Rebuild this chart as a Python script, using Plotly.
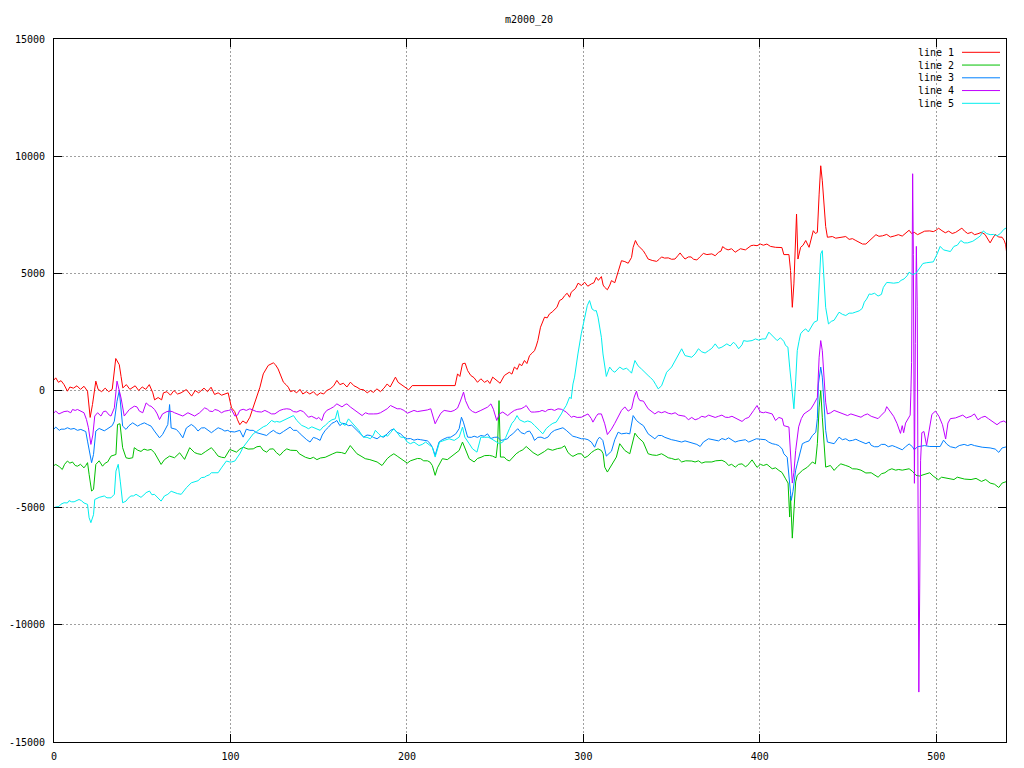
import plotly.graph_objects as go

# ---------------- data ----------------
title_text = "m2000_20"
series_names = ["line 1", "line 2", "line 3", "line 4", "line 5"]
series_colors = ["#ff0000", "#00c000", "#0080ff", "#c000ff", "#00eeee"]

x_ticks = [0, 100, 200, 300, 400, 500]
y_ticks = [-15000, -10000, -5000, 0, 5000, 10000, 15000]
y_tick_labels = ["-15000", "-10000", "-5000", "0", "5000", "10000", "15000"]

line1_pts = [
    (0, 450), (1, 540), (2.5, 350), (4, 420), (5.7, 250), (7.6, -30), (9, 150), (11, 100), (13, 200), (15, 50),
    (17, 180), (19, -30), (20.5, -1150), (21.8, -600), (23.7, 400), (25, 50), (27, -50), (29, 100), (31, -50),
    (33, 50), (35, 1365), (36, 1250), (37, 1100), (38, 600), (39, 110), (41, 250), (43, 50), (46, 200), (48, 0),
    (50, 150), (52, 50), (54, 250), (56, -100), (57, -400), (59, -300), (61, -400), (62, -100), (64, -50),
    (66, -200), (68, 0), (70, -150), (72, -100), (75, 40), (78, -240), (80, 0), (82, -100), (85, 100), (87, -50),
    (89, 140), (91, -170), (93, -100), (95, -200), (97, -150), (98.7, -100), (100.6, -740), (102.4, -900),
    (104, -1250), (105.3, -1460), (107, -1300), (109, -1400), (111, -1140), (113, -700), (114.8, -280),
    (116.7, 140), (118.6, 710), (120, 900), (121.4, 1070), (124.3, 1180), (125.5, 1100), (127, 920),
    (128.5, 650), (130, 355), (131.5, 250), (132.8, 140), (134, -50), (135.7, 0), (137.5, -100), (139.4, 50),
    (141, -150), (143, -50), (145, -150), (147, -50), (149, -210), (151, -100), (152.8, -150), (154.6, 0),
    (156.5, 70), (158.5, 200), (160.3, 430), (162, 250), (164, 310), (166, 150), (168, 355), (170, 200),
    (171.7, 140), (173.5, 50), (175.5, 30), (177.5, -100), (179.3, 0), (181, -80), (183, 70), (185, -50),
    (187, 100), (188.8, 280), (190.5, 150), (192, 350), (193.5, 570), (195, 350), (196.4, 280), (198, 200),
    (199.2, 140), (201, 30), (203, 210), (227.3, 210), (228.7, 710), (230, 600), (231.5, 1140), (233, 1165),
    (234.4, 850), (236.2, 640), (238, 550), (240, 350), (241.9, 500), (244, 350), (245.7, 430), (247, 300),
    (248.6, 570), (250.5, 450), (252.8, 310), (255.2, 640), (258, 780), (259.5, 700), (260.9, 1000),
    (262.5, 900), (263.8, 1140), (265, 1050), (266.6, 1280), (268, 1150), (269.5, 1490), (271, 1600),
    (272.3, 1700), (273.3, 1900), (274.2, 2130), (275.7, 2700), (277, 3000), (278, 3130), (279.5, 3100),
    (280.8, 3270), (282.3, 3350), (283.7, 3480), (285, 3550), (286.5, 3840), (288, 3900), (289.4, 4050),
    (290.8, 4150), (292.2, 3980), (293.1, 4190), (294.1, 4260), (295.5, 4350), (297, 4580), (298.9, 4480),
    (300.7, 4620), (302.5, 4450), (304.5, 4550), (306, 4600), (307.3, 4830), (308.5, 4700), (310.2, 4860),
    (311.2, 4500), (312.1, 4400), (313.6, 4300), (315, 4500), (315.9, 4690), (317.8, 4600), (319.7, 5050),
    (321.6, 5540), (323.5, 5500), (325.4, 5430), (327.3, 5680), (328.2, 6110), (329.5, 6400), (330.8, 6200),
    (332, 6110), (333.9, 5970), (335.3, 5800), (336.7, 5610), (339, 5550), (341.5, 5510), (343, 5600),
    (344.3, 5700), (346, 5650), (348.1, 5660), (350, 5600), (351.9, 5610), (353.5, 5750), (354.8, 5870),
    (356, 5750), (357.6, 5610), (359.5, 5700), (361, 5700), (362.5, 5600), (364.3, 5570), (366, 5700),
    (368, 5850), (370, 5800), (372.8, 5830), (374.7, 5750), (376.6, 5900), (378, 5950), (378.9, 6140),
    (380.5, 6050), (382, 6000), (384, 6050), (386, 5900), (388, 6000), (389, 6050), (391.8, 6000),
    (393.5, 6100), (395, 6180), (396.5, 6200), (398.4, 6180), (400.3, 6250), (402, 6200), (404, 6250),
    (406, 6150), (408.9, 6110), (411, 6120), (412.5, 6100), (413.6, 5800), (416.5, 5800), (417.4, 5120),
    (418.4, 3550), (419.3, 4550), (420.3, 6890), (420.8, 7530), (421.6, 5610), (423.1, 6110), (424.5, 6200),
    (426, 6400), (427.9, 6110), (429, 6500), (430.3, 6820), (431.5, 6700), (432.6, 6750), (433.6, 8380),
    (434.5, 9590), (435.4, 8950), (436.4, 7670), (437.3, 7000), (438.3, 6540), (441.1, 6570), (443, 6500),
    (444.9, 6520), (446.8, 6550), (448.7, 6570), (450.6, 6450), (452.5, 6480), (454.4, 6400), (456.3, 6320),
    (458.2, 6250), (460.1, 6250), (461.5, 6350), (463, 6420), (465.8, 6650), (467.5, 6580), (469.5, 6600),
    (471.9, 6660), (474, 6550), (476.5, 6600), (478.5, 6650), (480.7, 6590), (482.6, 6700), (484.6, 6840),
    (486, 6700), (487.5, 6750), (489.4, 6650), (491.4, 6730), (493.4, 6800), (496.3, 6810), (498.3, 6780),
    (500.2, 6850), (501.2, 6930), (503.2, 6820), (505.1, 6730), (507, 6800), (509, 6700), (511, 6750),
    (513, 6850), (514.5, 6930), (516, 6800), (517.8, 6700), (520, 6750), (521.7, 6650), (523.6, 6690),
    (525.6, 6750), (527.6, 6660), (529, 6500), (530.5, 6300), (532, 6500), (533.4, 6660), (535.4, 6550),
    (537.3, 6540), (538.5, 6400), (539.3, 6220), (540, 5800),
]

line2_pts = [
    (0, -3200), (1, -3155), (3, -3250), (4.7, -3370), (6, -3150), (7.6, -3010), (9, -3100), (10.5, -3050),
    (12, -3200), (13.3, -3230), (15, -3150), (17, -3300), (18, -3200), (19, -3080), (19.9, -3580),
    (21.3, -4290), (22.4, -4220), (23.1, -3580), (23.7, -3155), (25.6, -3000), (27.5, -3230), (29, -3100),
    (30.4, -3050), (32.3, -2800), (34, -2750), (35.1, -2730), (36, -1450), (37.4, -1420), (38.9, -2440),
    (40.8, -2870), (42.5, -2900), (44.6, -2870), (45.5, -2440), (47.5, -2550), (49.3, -2600), (51, -2500),
    (53, -2550), (55, -2515), (56.9, -2650), (58.8, -2900), (60.7, -3155), (62.6, -2950), (65.5, -2800),
    (68.3, -2870), (71.2, -2660), (72.6, -2800), (74, -2940), (76.9, -2440), (79.7, -2650), (81.5, -2700),
    (83.5, -2730), (86, -2600), (89.2, -2440), (91, -2600), (93, -2800), (95, -2850), (96.8, -2870),
    (99.6, -2515), (101, -2550), (103.4, -2630), (105.3, -2500), (107.2, -2420), (110, -2500), (112.9, -2490),
    (115, -2400), (116.9, -2380), (118.5, -2550), (120.5, -2630), (122.3, -2500), (124.3, -2490), (126, -2650),
    (128, -2770), (130, -2600), (131.9, -2490), (134, -2550), (137.6, -2560), (139, -2700), (140.4, -2770),
    (142.5, -2850), (145.1, -2910), (147, -2850), (149, -2950), (151, -2880), (153.7, -2850), (155.6, -2770),
    (158, -2700), (160.3, -2630), (163, -2650), (165, -2700), (167.9, -2350), (169.5, -2500), (171.7, -2700),
    (174, -2800), (176.4, -2910), (179, -2950), (181, -3000), (183.1, -3050), (185.9, -3200), (188.8, -2910),
    (190.5, -2800), (192.6, -2700), (194.5, -2800), (196.4, -2900), (198, -2950), (200.2, -3100), (202, -3000),
    (204, -2950), (206, -2900), (207.8, -2910), (209.5, -3000), (211.6, -3000), (213, -3050), (214.4, -3200),
    (216, -3620), (217.3, -3300), (219.2, -3000), (220.1, -2910), (222.9, -2950), (224.6, -2850),
    (225.8, -2810), (227.5, -2700), (229.6, -2560), (231.5, -2200), (233, -2500), (235.3, -2910),
    (238.1, -3050), (240, -2900), (242, -2850), (244, -2780), (246.7, -2770), (248.5, -2800), (250.5, -2870),
    (251.4, -2270), (252.2, -430), (253, -2840), (255.1, -2840), (256.5, -2950), (258.1, -3010), (260, -2850),
    (261.9, -2700), (263.8, -2600), (265.7, -2530), (267.6, -2390), (269.5, -2530), (271.5, -2650),
    (274.2, -2770), (276, -2700), (278, -2600), (279.9, -2490), (282.5, -2550), (285.3, -2480), (287.5, -2450),
    (289.4, -2360), (291.3, -2650), (293.1, -2770), (294.1, -2810), (296.9, -2700), (298.9, -2700),
    (300.7, -2870), (302.5, -2800), (304.5, -2650), (306.4, -2550), (308.3, -2490), (310.2, -2560),
    (311.2, -2700), (312.1, -3270), (313.6, -3480), (315.9, -3200), (318.7, -2840), (320.6, -2270),
    (323.5, -2560), (326.3, -2700), (328.2, -2130), (329.2, -1820), (331, -2000), (333.9, -2200),
    (336.7, -2700), (339, -2750), (341.5, -2770), (344.3, -2700), (346.2, -2780), (348.1, -2870), (350, -2900),
    (352, -2950), (353.9, -2920), (355.7, -3050), (358, -3000), (361.4, -3010), (363.3, -3050), (365.2, -3000),
    (367.1, -3100), (369, -3050), (372.8, -3050), (375, -3000), (378.5, -2980), (380.5, -3050), (382.3, -3200),
    (384, -3150), (386.1, -3270), (388, -3150), (389.9, -3130), (391.8, -3250), (393, -3200), (395.6, -2960),
    (398.4, -3280), (400.3, -3150), (402, -3200), (404, -3150), (407, -3340), (408.9, -3300), (410.8, -3410),
    (412.6, -3500), (414.6, -3770), (416, -3950), (416.9, -5400), (417.4, -4500), (418.4, -6300),
    (419.3, -5000), (420.3, -3900), (421.2, -3620), (424.1, -3410), (427, -3270), (429.8, -3050),
    (431.5, -3130), (432.6, -2270), (433.6, -710), (434.5, 0), (435.4, -1140), (436.4, -2270), (437.3, -3270),
    (440, -3200), (442.1, -3410), (444, -3250), (445.9, -3130), (448.7, -3200), (450.6, -3250), (452.5, -3340),
    (455, -3350), (457.3, -3400), (460.1, -3520), (463.1, -3510), (465, -3600), (467, -3700), (469, -3550),
    (470.9, -3510), (472.9, -3400), (474.8, -3340), (477, -3400), (478.7, -3370), (480.7, -3400),
    (482.6, -3380), (484.6, -3340), (486.5, -3450), (488.5, -3620), (490.4, -3650), (492.4, -3600),
    (494.3, -3550), (496.3, -3510), (498.2, -3650), (501.2, -3810), (503, -3700), (505, -3720), (507.4, -3750),
    (510, -3800), (511.9, -3700), (513.9, -3730), (516, -3780), (519.7, -3800), (522.5, -3750), (525.6, -3880),
    (528, -3800), (530.5, -3950), (533, -4000), (535.4, -4140), (537.3, -3950), (540, -3880),
]

line3_pts = [
    (0, -1650), (1, -1560), (3, -1700), (4, -1650), (6, -1650), (7.6, -1590), (9.5, -1650), (11.4, -1620),
    (13.3, -1700), (15.2, -1660), (17, -1720), (18, -1750), (19, -2160), (20.5, -2730), (21.3, -3080),
    (22.4, -2730), (23.7, -1730), (25.6, -1620), (27.5, -1700), (28.5, -1720), (30, -1650), (31.3, -1590),
    (33, -1500), (34.2, -1310), (35.7, -460), (37, 0), (38, -700), (38.9, -1520), (40.8, -1660), (42.5, -1500),
    (44.6, -1380), (47.4, -1520), (49, -1450), (51.2, -1380), (53, -1450), (55, -1520), (56.9, -1730),
    (59.8, -2020), (61.5, -1880), (62.6, -1730), (64.5, -1450), (65.5, -600), (66.4, -1600), (69.3, -1660),
    (71, -1800), (73, -2020), (75, -1600), (77.8, -1450), (79.7, -1550), (81.6, -1730), (83.5, -1600),
    (85.4, -1590), (87.3, -1680), (89.2, -1800), (91, -1700), (93, -1590), (95, -1650), (96.8, -1730),
    (98.5, -1700), (99.6, -1750), (102.4, -1770), (105.3, -1700), (107.2, -1990), (109, -1650), (111, -1700),
    (112.9, -1700), (114.8, -1800), (116.7, -1850), (118.6, -1900), (120.5, -1920), (122.3, -1800),
    (124.3, -1700), (126.1, -1800), (128, -1850), (130, -1750), (131.9, -1650), (133.8, -1560), (135.7, -1700),
    (137.6, -1700), (139.5, -1850), (141.3, -1990), (143.2, -2100), (145.1, -2200), (147, -2000),
    (148.9, -2050), (150.8, -2130), (152, -1900), (153.7, -1700), (155.6, -1560), (157.5, -1400), (159, -1350),
    (160.3, -1280), (162, -1500), (163.5, -1400), (165, -1420), (166.9, -1500), (168.7, -1480), (170.8, -1630),
    (172, -1700), (173.6, -1850), (175.5, -1990), (177.4, -1900), (179.3, -1920), (181, -2000), (183.1, -2060),
    (185, -1950), (187, -1990), (188.8, -1850), (190.7, -1700), (192.6, -1640), (194.3, -1780), (196.4, -1850),
    (198.3, -1990), (200.2, -2060), (202, -2050), (204, -2120), (206, -2080), (207.8, -2100), (209.5, -2120),
    (211.6, -2150), (213, -2250), (214.4, -2420), (216, -2770), (217.4, -2400), (218.2, -2200), (220, -2100),
    (221.1, -2060), (223, -2000), (224.9, -1990), (227.7, -1850), (229.6, -1630), (230.9, -1140),
    (232, -1350), (234.4, -1990), (236.5, -2000), (238.1, -1950), (240, -2000), (241.9, -1920), (243.8, -1950),
    (245.7, -1850), (247.5, -2050), (249.5, -2000), (251.4, -1990), (253.3, -2130), (255.2, -2100),
    (257, -2060), (258.1, -1950), (260, -1850), (262.8, -1630), (264.7, -1800), (266.6, -1850), (268, -1760),
    (269.5, -1730), (271, -1900), (272.3, -2130), (274.2, -2000), (276, -1990), (278, -2050), (279.9, -1990),
    (281.8, -1800), (283.7, -1700), (285.6, -1650), (288.4, -1590), (290.3, -1700), (292.2, -1850),
    (294, -1950), (296, -1990), (298.9, -2060), (300.7, -2060), (302.6, -2100), (304.5, -2200), (306.4, -2420),
    (308, -2100), (309.2, -1990), (311, -2130), (313, -2800), (315.9, -2590), (317.8, -2100), (319.7, -1780),
    (321.6, -1850), (324.4, -1820), (326.3, -1850), (328.2, -1070), (330.1, -1280), (332, -1400), (334, -1500),
    (336.7, -1850), (338.5, -1950), (340.5, -2060), (342.4, -1920), (344.3, -1920), (346.2, -2000),
    (348.1, -2060), (350, -2100), (352, -2130), (353.9, -2150), (355.7, -2200), (357.6, -2150), (360, -2200),
    (362.3, -2250), (364.3, -2300), (366.2, -2390), (368, -2200), (370.9, -2060), (373, -2100), (374.7, -2100),
    (376.6, -2150), (378.5, -2050), (380.5, -2100), (382.3, -2020), (384, -2100), (386, -2200), (388, -2150),
    (389.9, -2130), (391.8, -2100), (393.7, -2200), (395.6, -2130), (398, -2060), (400.3, -2080),
    (403.2, -2100), (405, -2200), (407, -2270), (408.9, -2300), (410.8, -2350), (412.7, -2500), (413.6, -2700),
    (415.5, -2850), (416.9, -3980), (417.8, -4690), (418.8, -4300), (419.7, -3700), (420.3, -3400),
    (421.2, -3130), (422.5, -2700), (424.1, -2270), (426, -2200), (427.9, -2150), (429.8, -1920),
    (431.7, -1780), (432.6, -1200), (433.2, 280), (434.5, 1000), (435.4, 570), (436.4, -570), (437.3, -1700),
    (438.3, -2200), (440.2, -2250), (442.1, -2270), (444.9, -1990), (446.8, -2100), (448.7, -2060),
    (450.6, -2150), (452.5, -2130), (454.4, -2080), (456.3, -2150), (458.2, -2200), (460.1, -2270), (462, -2200),
    (463.1, -2340), (465, -2400), (467, -2400), (468.9, -2300), (470.9, -2300), (472.8, -2400), (475, -2350),
    (476.8, -2400), (478.7, -2450), (480.7, -2530), (482.6, -2400), (484.6, -2280), (486.5, -2400),
    (487.5, -2530), (489.4, -2400), (491.4, -2390), (493.3, -2350), (496.3, -2390), (498.2, -2400),
    (500.2, -2380), (502.2, -2390), (504.1, -2120), (506.1, -2300), (508, -2400), (510.9, -2450), (513, -2350),
    (515.8, -2300), (517.8, -2350), (519.7, -2300), (521.6, -2350), (523.6, -2390), (526, -2420),
    (530.5, -2450), (533.4, -2500), (535.4, -2640), (537.3, -2450), (540, -2400),
]

line4_pts = [
    (0, -950), (1, -880), (2.8, -1000), (4, -960), (5.7, -900), (7.6, -880), (9.5, -950), (10.5, -810),
    (12, -850), (13.3, -810), (15.2, -900), (17, -950), (18.4, -1240), (19.5, -1590), (20.9, -2300),
    (22, -1900), (23.1, -1090), (24.7, -950), (26.6, -1090), (28, -900), (29.4, -880), (31.3, -1050),
    (32.3, -1090), (34.2, -740), (35.7, 400), (37, -30), (38, -320), (39.8, -1090), (41.5, -900), (42.7, -810),
    (45.5, -670), (47, -700), (48.4, -880), (50.3, -950), (52.2, -530), (54, -650), (55, -670), (57, -810),
    (58.5, -1000), (59.8, -1240), (61.5, -1000), (62.6, -950), (64, -900), (65.5, -880), (67, -900),
    (68.3, -950), (70.2, -1000), (73, -1090), (75.9, -950), (77.5, -1000), (79.7, -1090), (82.5, -950),
    (85.4, -740), (87, -800), (88.2, -880), (90, -900), (91.1, -810), (93, -850), (94.9, -950), (96.8, -880),
    (97.7, -880), (99, -850), (100.6, -810), (102.5, -1090), (104, -1050), (105.3, -850), (107.2, -800),
    (109, -850), (111, -780), (113, -850), (114.8, -900), (117.6, -920), (119.5, -850), (121.4, -920),
    (123.3, -1000), (125.2, -995), (127, -900), (128, -850), (130, -800), (131.9, -780), (133.8, -800),
    (135.7, -900), (137.6, -920), (139.5, -850), (141.3, -900), (143, -1050), (144.2, -1140), (146, -1100),
    (148.9, -1210), (150, -1150), (151.8, -1280), (153, -1000), (154.6, -850), (156.5, -780), (158.4, -700),
    (160.3, -570), (162, -650), (163.2, -700), (165, -600), (166, -570), (167.9, -700), (169.8, -800),
    (171.7, -920), (173, -950), (174.6, -1070), (176.5, -950), (178.3, -1000), (181, -1000), (183.1, -995),
    (185, -950), (187, -850), (188.8, -780), (190.7, -640), (192.6, -720), (194.5, -780), (196.4, -780),
    (198.3, -850), (200.2, -970), (202, -900), (204, -850), (205.9, -900), (207.8, -880), (209.7, -850),
    (211.6, -830), (213.5, -780), (214.8, -1070), (216, -1420), (217.5, -1200), (219.2, -970), (221.1, -850),
    (223, -880), (224.9, -900), (226.8, -850), (228.7, -750), (230.3, -450), (232.1, -70), (233.2, -430),
    (235.3, -780), (237.2, -900), (239, -950), (241.9, -850), (243.8, -780), (245.7, -710), (247.6, -570),
    (249, -800), (250.9, -1280), (252.4, -1000), (254.3, -920), (256, -1000), (257.1, -1070), (259, -950),
    (260.9, -850), (262.8, -800), (264.7, -780), (266.6, -700), (267.6, -640), (269.5, -850), (270.4, -920),
    (272.3, -920), (275, -900), (276.6, -850), (278.5, -900), (279.9, -820), (281.8, -800), (283.7, -850),
    (285.6, -780), (287.5, -800), (290.3, -920), (292, -1050), (293.2, -1140), (294.6, -1100), (296.5, -1150),
    (298.9, -1140), (300.7, -1070), (302.6, -1000), (304.5, -1200), (305.4, -1350), (307.3, -1100),
    (308.3, -1000), (310.2, -1000), (311.2, -1200), (312.1, -1420), (313.6, -1880), (315.9, -1650),
    (317.8, -1400), (318.7, -1280), (320.6, -1000), (321.6, -850), (323.5, -700), (325.4, -880), (327.3, -780),
    (328.8, -280), (330.1, -30), (331, -300), (332, -430), (334, -450), (336.7, -780), (338.6, -900),
    (340.5, -1000), (342.4, -900), (344.3, -950), (346.2, -900), (348.1, -970), (350, -1000), (352, -950),
    (353.9, -1050), (355.7, -1070), (357.6, -1100), (359.5, -1250), (361.4, -1150), (363.3, -1250),
    (365.2, -1200), (367.1, -1100), (369, -1140), (371, -1050), (372.8, -1100), (374.7, -1150), (376.6, -1100),
    (378.5, -1050), (380.4, -1140), (382.3, -1150), (384.2, -1100), (386.1, -1180), (388, -1250),
    (389.9, -1320), (391.8, -1200), (393.7, -1150), (396.5, -850), (398.4, -640), (400.3, -920), (402, -950),
    (403.2, -920), (405, -950), (407, -1000), (408.9, -1280), (410.8, -1150), (412.7, -1200), (413.6, -1500),
    (416.5, -1560), (417.4, -2840), (418.4, -3950), (419.3, -3500), (420.3, -2560), (422, -1550),
    (423.5, -1200), (425, -1000), (427, -900), (428.8, -800), (430.7, -570), (432.6, -300), (433.6, 1420),
    (434.5, 2130), (435.4, 1700), (436.4, 280), (437.3, -500), (438.3, -1000), (440.2, -950), (442.1, -850),
    (444, -900), (446, -950), (447.8, -1000), (449.7, -1070), (451.6, -1000), (453.5, -1050), (455.4, -1100),
    (457.3, -1140), (459.2, -1050), (461, -1000), (463.1, -1100), (465, -1150), (467, -1200), (468.9, -1050),
    (470.9, -900), (471.9, -690), (473.8, -900), (475.8, -1100), (477.7, -1400), (478.9, -1700),
    (479.7, -1830), (480.7, -1500), (481.5, -1800), (482.6, -1390), (484.2, -1150), (485.2, -1050),
    (485.6, -100), (486.0, 1200), (486.3, 5000), (486.6, 9250), (487.0, 5800), (487.6, -3960), (488.1, 2000),
    (488.7, 6150), (489.2, 3600), (489.6, -2500), (490.1, -12870), (490.6, -8470), (491.1, -3000),
    (491.8, -1800), (493.0, -1750), (494.5, -2340), (496.0, -1700), (497.5, -1020), (499.5, -880),
    (501.5, -1100), (503.5, -1460), (505.3, -2070), (506.6, -1390), (508, -1200), (510.9, -1170),
    (512.9, -1100), (515, -1050), (517, -1170), (519.7, -1100), (521.6, -1000), (523.6, -1250),
    (525.6, -1150), (527.6, -1100), (529.5, -1200), (531.5, -1300), (534.4, -1460), (536.3, -1350),
    (538.3, -1300), (540, -1390),
]

line5_pts = [
    (0, -5000), (1, -4970), (2.8, -4950), (4, -4850), (5.7, -4790), (7.6, -4800), (8.5, -4700), (10, -4750),
    (11.4, -4750), (14.2, -4650), (15.5, -4700), (17, -4800), (19, -4860), (19.9, -5430), (20.9, -5640),
    (22.4, -5300), (23.1, -4650), (25.6, -4560), (28.5, -4500), (30, -4580), (32.3, -4580), (34.2, -4430),
    (35.1, -3440), (36.4, -3150), (37.6, -3900), (38.9, -4790), (40.8, -4720), (42, -4600), (43.6, -4500),
    (45, -4500), (46.5, -4430), (48, -4500), (49.3, -4560), (51, -4450), (52.2, -4360), (54.1, -4290),
    (55.5, -4450), (56.9, -4430), (58.8, -4600), (60.7, -4720), (62.6, -4500), (64.5, -4430), (66.4, -4300),
    (68.3, -4360), (70, -4400), (72.1, -4430), (73.5, -4300), (75, -4150), (77.8, -3940), (79.7, -3900),
    (81.6, -3850), (83.5, -3720), (85.4, -3700), (86.3, -3650), (88, -3600), (89.2, -3510), (91.1, -3500),
    (93, -3510), (94.9, -3300), (96.8, -3100), (97.7, -3010), (99.6, -3050), (100.6, -3050), (102.5, -3010),
    (103.4, -2910), (105.3, -2700), (107.2, -2420), (110, -2130), (112.9, -1850), (114.8, -1750),
    (116.7, -1630), (118.6, -1550), (120.5, -1490), (123.3, -1280), (125.2, -1350), (126.1, -1320),
    (128, -1350), (130, -1280), (131.9, -1200), (133.8, -1140), (135.7, -1070), (137.6, -1280), (140.4, -1490),
    (142.3, -1550), (144.2, -1630), (146.1, -1550), (148, -1600), (150.8, -1700), (152.5, -1550),
    (153.7, -1490), (155.6, -1350), (157.5, -1250), (159.4, -1210), (160.7, -850), (162, -1350), (163.9, -1450),
    (165, -1490), (166.9, -1210), (168.6, -1350), (170.2, -1500), (172.7, -1700), (174, -1850), (175.5, -1990),
    (177.4, -2000), (179.3, -2060), (181, -1900), (182.1, -1700), (184, -1850), (185.9, -1990), (187.8, -1900),
    (189, -1950), (190.7, -1800), (192.6, -1630), (194.5, -1800), (196.4, -1990), (198.3, -2000),
    (200.2, -2200), (202, -2270), (204, -2200), (206.8, -2350), (208.7, -2300), (210.6, -2200), (212.5, -2300),
    (214.4, -2420), (216, -2840), (217.4, -2500), (218.5, -2200), (221.1, -2130), (223.9, -2060),
    (226.8, -2130), (229.6, -1990), (231.5, -1560), (232.8, -1990), (235.3, -2270), (237.2, -2490),
    (239.7, -2630), (241.9, -1990), (244, -2000), (246, -1990), (247.6, -2050), (249.5, -2130), (251.4, -2200),
    (252.4, -2270), (254.3, -2200), (256, -2000), (258.1, -1630), (259.5, -1400), (260.9, -1280),
    (262.4, -1070), (263.8, -1250), (266.6, -1350), (268.5, -1300), (270.4, -1350), (272.3, -1490),
    (274, -1600), (275.1, -1700), (277, -1850), (278.9, -1630), (280.8, -1500), (282.7, -1400), (284.6, -1350),
    (286, -1200), (287.5, -1000), (288.9, -800), (290.3, -640), (291.3, -450), (292.2, -280), (293.1, -350),
    (294.1, 280), (295, 570), (296, 1000), (296.9, 1560), (298.8, 2420), (300.7, 3130), (302.2, 3620),
    (303.5, 3840), (304.9, 3480), (306.4, 3400), (307.3, 3410), (308.3, 3130), (310.2, 2270), (311.1, 1560),
    (312.1, 1000), (313, 600), (314.9, 1000), (316.4, 850), (317.8, 780), (319.2, 900), (320.6, 1000),
    (322.5, 900), (324.4, 950), (326, 850), (327.3, 740), (329.2, 1280), (331, 1050), (332.9, 920), (334.8, 800),
    (336.7, 640), (338, 550), (339.6, 430), (341, 250), (342.4, 70), (344.3, 200), (345.8, 500), (347.2, 780),
    (350, 1000), (351.5, 1200), (352.9, 1420), (354.5, 1600), (355.7, 1780), (357.6, 1490), (359.5, 1450),
    (361.4, 1420), (363.3, 1560), (365.2, 1780), (367.1, 1650), (369, 1600), (370.9, 1700), (372.8, 1800),
    (374.7, 1990), (376.6, 1800), (378.5, 1850), (380.4, 1950), (381.3, 1990), (383.2, 1900), (385.1, 2060),
    (386.5, 1950), (388, 1780), (389.9, 1950), (390.8, 2130), (392.7, 2100), (394.6, 2130), (395.6, 2130),
    (397.5, 2200), (399.4, 2150), (401.3, 2200), (403.2, 2200), (405.1, 2490), (407, 2350), (408.9, 2200),
    (409.8, 2130), (411.7, 2250), (413.6, 2100), (414.6, 1920), (415.9, 1850), (416.9, 1000), (417.8, 280),
    (418.8, -570), (419.3, -780), (420.3, 400), (421.2, 1700), (422.2, 2100), (423.1, 2420), (424.5, 2550),
    (426, 2630), (427.5, 2500), (429, 2700), (430.7, 2910), (432.6, 2980), (433.6, 4830), (434.5, 5830),
    (435.4, 5970), (436.4, 4550), (437.3, 3550), (438.9, 2840), (440.5, 2950), (442.1, 3000), (444.9, 3340),
    (446.8, 3250), (448.7, 3200), (450.6, 3300), (452.5, 3300), (454.4, 3350), (456.3, 3400), (458, 3500),
    (459.2, 3770), (460.5, 3900), (462, 4120), (463.1, 4100), (465, 4150), (467, 4030), (468.9, 4100),
    (470, 4400), (471.9, 4610), (473.8, 4600), (475.8, 4580), (478.7, 4610), (480, 4700), (481.7, 4760),
    (483.5, 4900), (484.6, 5050), (486.5, 4950), (488.5, 5000), (490.4, 5200), (492.4, 5420), (494.3, 5450),
    (496.3, 5480), (498.3, 5490), (500.2, 5780), (502.2, 6150), (504.1, 6000), (506, 5950), (508, 5930),
    (510, 6150), (511.9, 6200), (513.9, 6400), (515.8, 6300), (517.8, 6300), (520.7, 6370), (523.6, 6520),
    (525, 6600), (526.6, 6810), (528.5, 6700), (530.5, 6650), (532.4, 6660), (534.4, 6600), (536.3, 6700),
    (538.3, 6880), (540, 6950),
]

all_series = [line1_pts, line2_pts, line3_pts, line4_pts, line5_pts]

# ---------------- figure ----------------
FONT = "DejaVu Sans Mono"
FIG_W, FIG_H = 1024, 768
PLOT_L, PLOT_R, PLOT_T, PLOT_B = 54, 1006, 39, 742   # plot area in window pixels

fig = go.Figure()
for name, color, pts in zip(series_names, series_colors, all_series):
    xs = [p[0] for p in pts]
    ys = [p[1] for p in pts]
    fig.add_trace(go.Scatter(x=xs, y=ys, mode="lines", name=name,
                             line=dict(color=color, width=1), showlegend=False))

# gnuplot-style key (text on the left, line sample on the right), in paper coords
plot_w = PLOT_R - PLOT_L
plot_h = PLOT_B - PLOT_T
for i, (name, color) in enumerate(zip(series_names, series_colors)):
    py = 52.3 + i * 12.75
    yp = 1 - (py - PLOT_T) / plot_h
    fig.add_annotation(x=(956 - PLOT_L) / plot_w, y=yp, xref="paper", yref="paper",
                       text=name, showarrow=False, xanchor="right", yanchor="middle",
                       font=dict(family=FONT, size=10, color="#000000"))
    fig.add_shape(type="line", xref="paper", yref="paper",
                  x0=(962 - PLOT_L) / plot_w, x1=(1000 - PLOT_L) / plot_w, y0=yp, y1=yp,
                  line=dict(color=color, width=1))

axis_common = dict(
    showline=True, linecolor="#000000", linewidth=1, mirror="allticks",
    ticks="inside", ticklen=8, tickcolor="#000000", tickwidth=1,
    showgrid=True, gridcolor="#a0a0a0", gridwidth=1, griddash="2px,2px",
    zeroline=False, tickfont=dict(family=FONT, size=10, color="#000000"),
    automargin=False,
)

fig.update_xaxes(range=[0, 539.5], tickvals=x_ticks, ticklabelstandoff=5, **axis_common)
fig.update_yaxes(range=[-15000, 15000], tickvals=y_ticks, ticktext=y_tick_labels,
                 ticklabelstandoff=6, **axis_common)

fig.update_layout(
    width=FIG_W, height=FIG_H,
    margin=dict(l=PLOT_L, r=FIG_W - PLOT_R, t=PLOT_T, b=FIG_H - PLOT_B, pad=0),
    paper_bgcolor="#ffffff", plot_bgcolor="#ffffff",
    title=dict(text=title_text, x=529 / FIG_W, xanchor="center",
               y=1 - 19 / FIG_H, yanchor="middle",
               font=dict(family=FONT, size=10, color="#000000")),
    showlegend=False,
)

# place the figure at the window's top-left corner (no default page margin)
fig.write_html("out.html", config={"displayModeBar": False},
               post_script="document.body.style.margin='0';document.body.style.overflow='hidden';")
